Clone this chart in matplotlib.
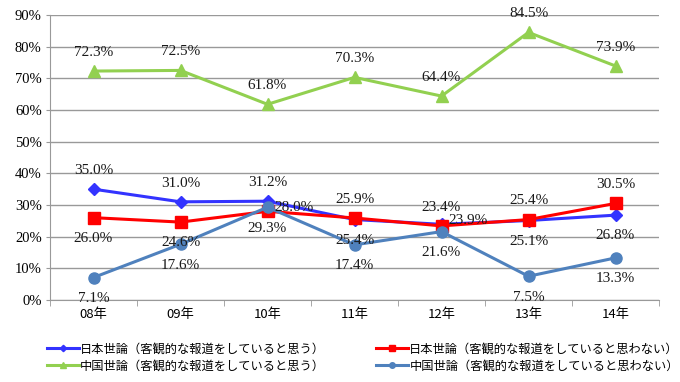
import matplotlib
matplotlib.use("Agg")
import matplotlib.pyplot as plt
from matplotlib.lines import Line2D

years = ["08年", "09年", "10年", "11年", "12年", "13年", "14年"]
jp_yes = [35.0, 31.0, 31.2, 25.4, 23.9, 25.1, 26.8]
jp_no = [26.0, 24.6, 28.0, 25.9, 23.4, 25.4, 30.5]
cn_yes = [72.3, 72.5, 61.8, 70.3, 64.4, 84.5, 73.9]
cn_no = [7.1, 17.6, 29.3, 17.4, 21.6, 7.5, 13.3]

names = ["日本世論（客観的な報道をしていると思う）",
         "日本世論（客観的な報道をしていると思わない）",
         "中国世論（客観的な報道をしていると思う）",
         "中国世論（客観的な報道をしていると思わない）"]

# label placement per point: u=above, d=below, r=right
jp_yes_pos = "uuudrdd"
jp_no_pos = "ddruuuu"
cn_yes_pos = "uuuuuuu"
cn_no_pos = "ddddddd"

num_font = ["Liberation Serif", "Noto Sans CJK JP"]
jp_font = ["Noto Sans CJK JP", "DejaVu Sans"]

fig = plt.figure(figsize=(6.8, 3.82), dpi=100)
ax = fig.add_axes([50 / 680, 1 - 300 / 382, 609 / 680, 285 / 382])

x = list(range(len(years)))
series = [
    (jp_yes, "#3333ff", "D", 6.5, jp_yes_pos),
    (jp_no, "#ff0000", "s", 8, jp_no_pos),
    (cn_yes, "#92d050", "^", 8.5, cn_yes_pos),
    (cn_no, "#4f81bd", "o", 8, cn_no_pos),
]
for vals, c, m, ms, pos in series:
    ax.plot(x, vals, color=c, lw=2.2, marker=m, ms=ms, zorder=3)
    for xi, v, p in zip(x, vals, pos):
        if p == "u":
            off, ha, va = (0, 13.5), "center", "center"
        elif p == "d":
            off, ha, va = (0, -15), "center", "center"
        else:
            off, ha, va = (5, 3), "left", "center"
        ax.annotate(f"{v:.1f}%", (xi, v), xytext=off, textcoords="offset points",
                    ha=ha, va=va, fontsize=11, family=num_font, color="#1a1a1a", zorder=4)

ax.set_xlim(-0.5, 6.5)
ax.set_ylim(0, 90)
ax.set_yticks(range(0, 100, 10))
ax.set_yticklabels([f"{t}%" for t in range(0, 100, 10)], family=num_font, fontsize=10.5)
ax.set_xticks(x)
ax.set_xticklabels(years, family=jp_font, fontsize=9.5)
ax.set_xticks([i + 0.5 for i in range(-1, 7)], minor=True)
ax.tick_params(axis="x", which="major", length=0, pad=6)
ax.tick_params(axis="x", which="minor", length=4, color="#999999")
ax.tick_params(axis="y", length=3, color="#999999", pad=3)
ax.grid(axis="y", color="#999999", lw=1)
ax.set_axisbelow(True)
for s in ["top", "right"]:
    ax.spines[s].set_visible(False)
for s in ["left", "bottom"]:
    ax.spines[s].set_color("#999999")

handles = [Line2D([], [], color=c, lw=2.2, marker=m, ms=ms * 0.5) for _, c, m, ms, _ in series]
order = [0, 2, 1, 3]
fig.legend([handles[i] for i in order], [names[i] for i in order], ncol=2,
           loc="center left", bbox_to_anchor=(47 / 680, 1 - 357.5 / 382),
           frameon=False, prop={"family": jp_font, "size": 8.8},
           handlelength=2.6, handletextpad=0.1, columnspacing=4.2,
           labelspacing=0.3, borderaxespad=0, borderpad=0)

fig.savefig("out.png", dpi=100)
